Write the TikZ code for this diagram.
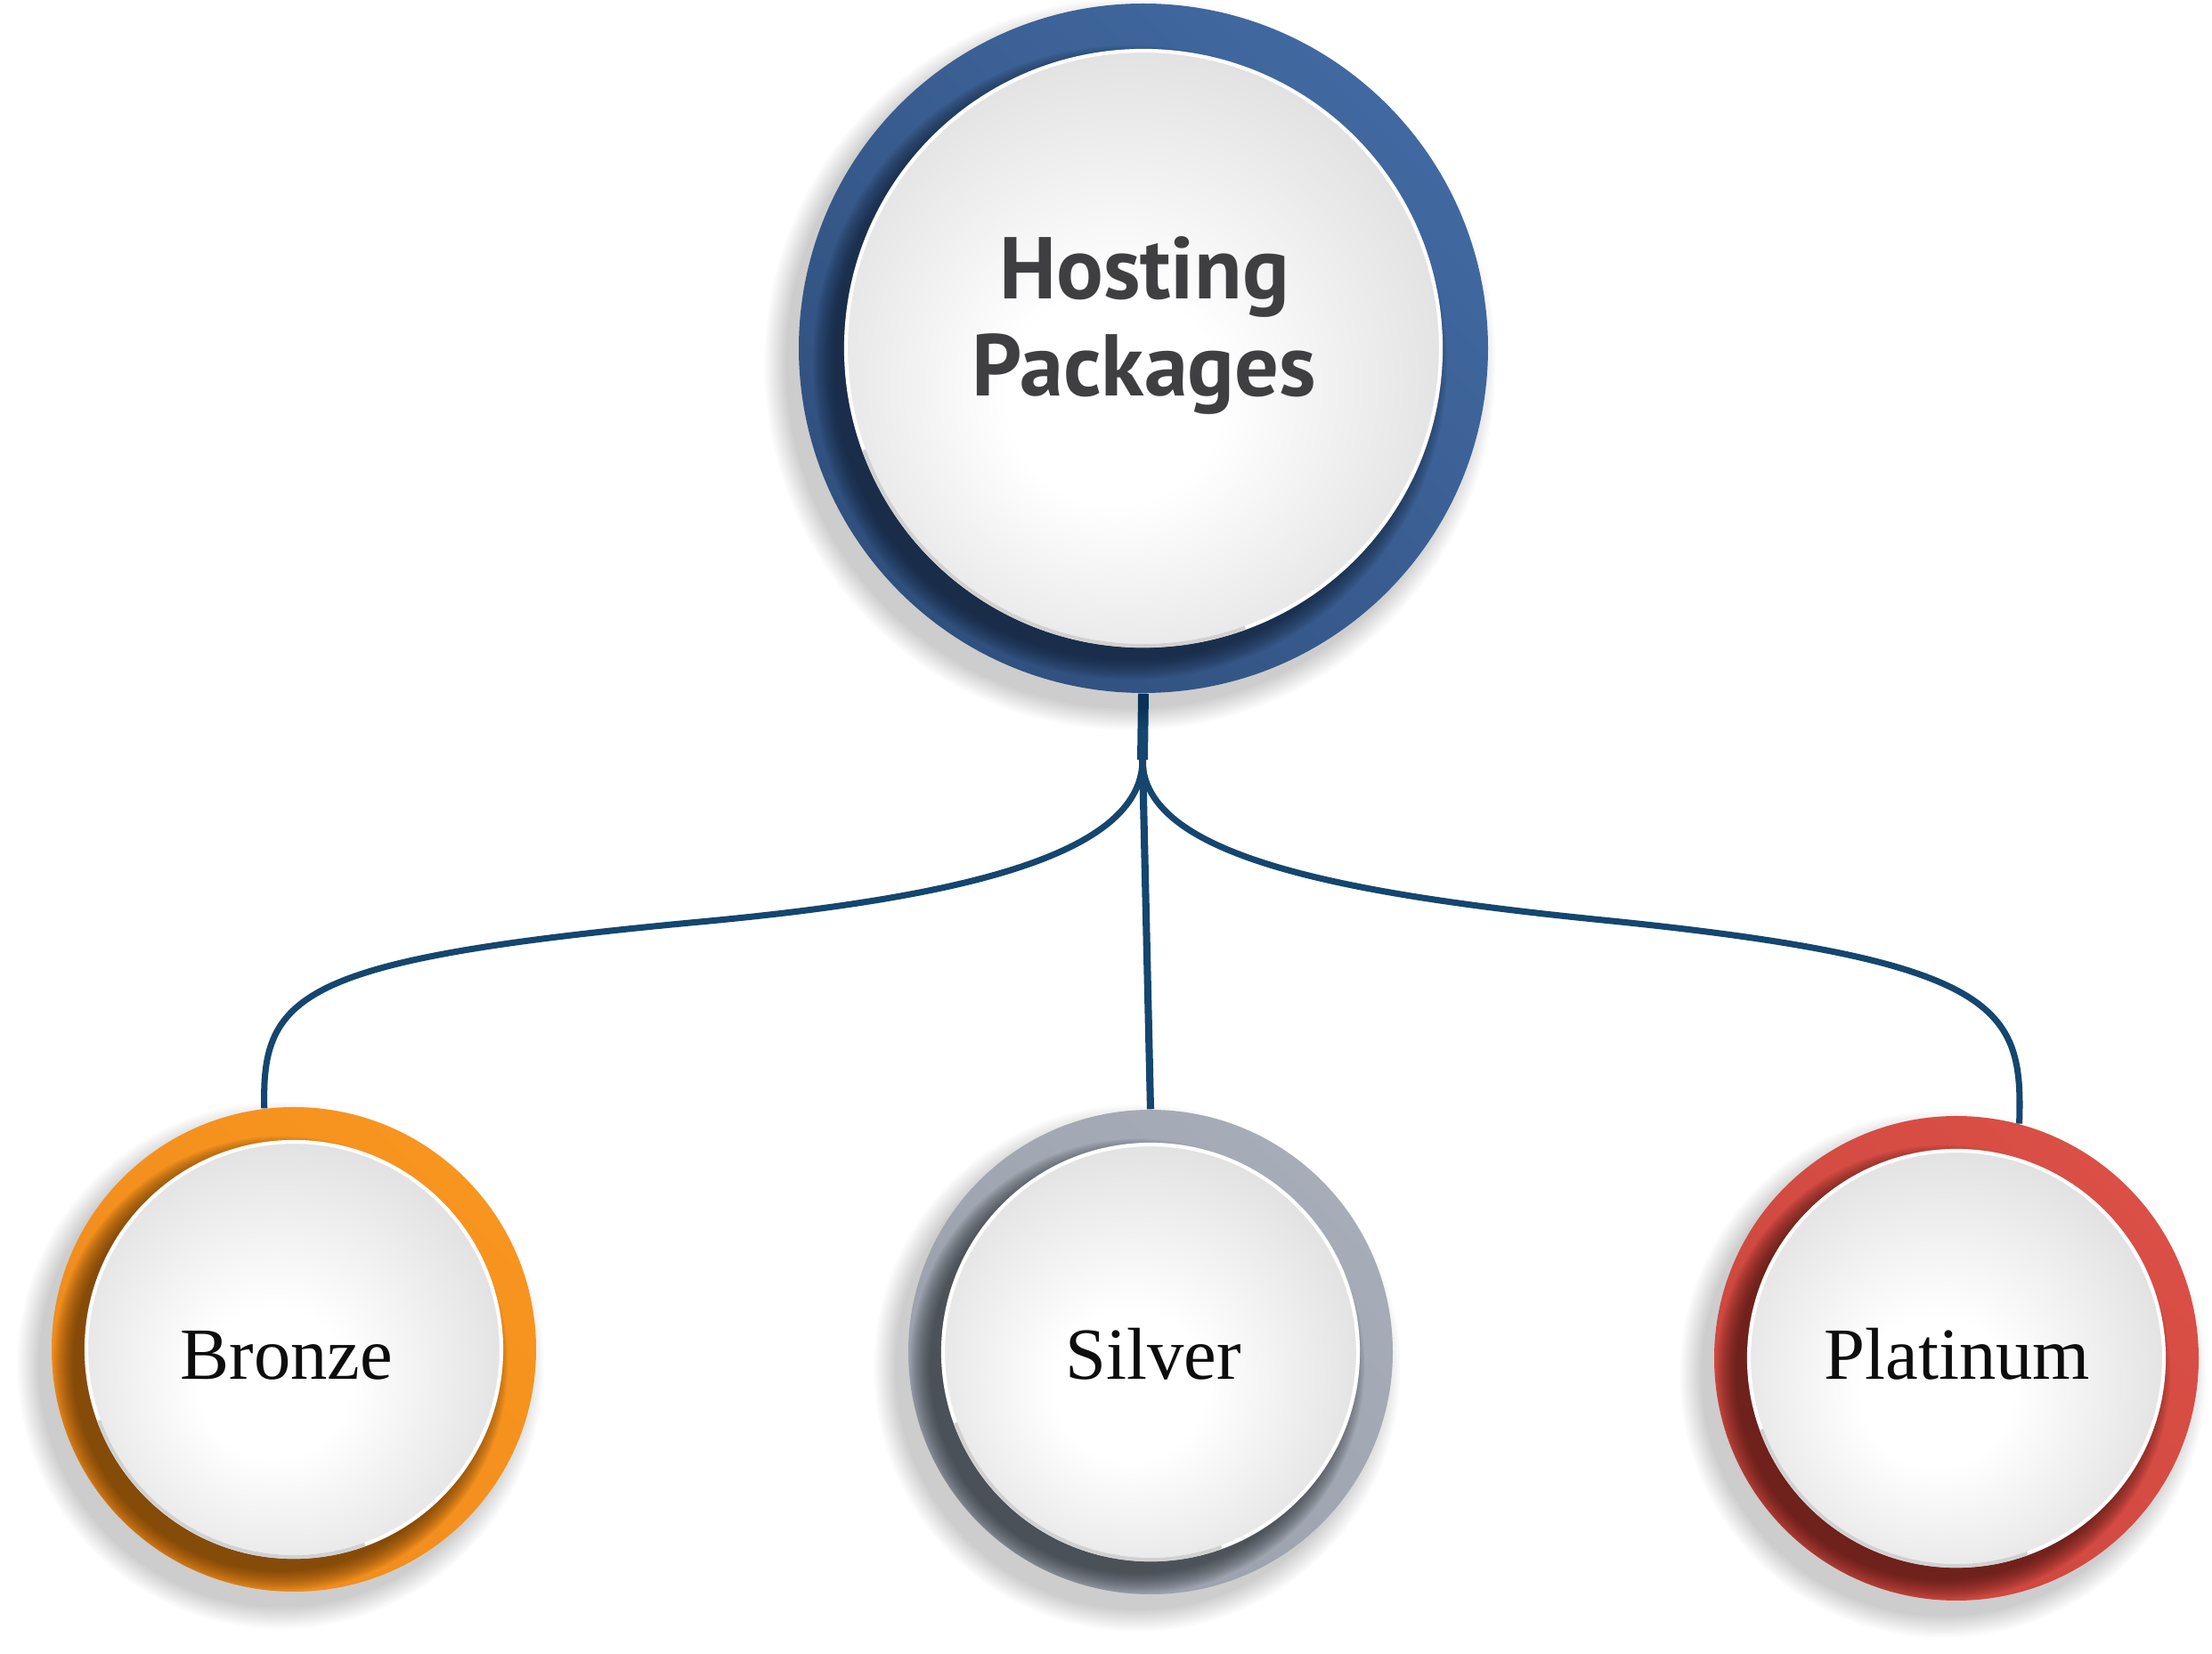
\documentclass[tikz,border=0pt]{standalone}
\usepackage{fontspec}
\setmainfont{Liberation Serif}
\newfontfamily\headfont{PT Sans}
\usetikzlibrary{calc}

\definecolor{conn}{HTML}{14466F}
\definecolor{discgray}{HTML}{DEDEDE}
\definecolor{blueL}{HTML}{4169A1}
\definecolor{blueD}{HTML}{30507E}
\definecolor{blueS}{HTML}{101B2D}
\definecolor{orangeL}{HTML}{F8951F}
\definecolor{orangeD}{HTML}{EF8B1D}
\definecolor{orangeS}{HTML}{472600}
\definecolor{silverL}{HTML}{A6ADB8}
\definecolor{silverD}{HTML}{99A0AB}
\definecolor{silverS}{HTML}{1F2328}
\definecolor{redL}{HTML}{DA4F46}
\definecolor{redD}{HTML}{CC473F}
\definecolor{redS}{HTML}{380E0B}
\definecolor{hubtxt}{HTML}{3F3F41}

\pgfdeclareradialshading{discshade}{\pgfpoint{-3bp}{-5bp}}{%
  color(0bp)=(white); color(9bp)=(white); color(30bp)=(discgray); color(50bp)=(discgray)}

\newcommand\fancydisc[6]{%
  \foreach \k in {0,...,9}{\fill[black,opacity=0.02] ($(#1)+(-0.15,-0.18)$) circle ({#2+0.026*\k});}
  \shade[top color=#4, bottom color=#5, shading angle=-45] (#1) circle (#2);
  \begin{scope}
    \clip (#1) circle (#2);
    \foreach \k in {0,...,11}{\fill[#6,opacity=0.075] ($(#1)+(-0.15,-0.16)$) circle ({#3+0.02*\k});}
  \end{scope}
  \shade[shading=discshade] (#1) circle (#3);
  \draw[white,line width=1.2pt] (#1) circle (#3);
  \draw[black!18,line width=1.2pt] ($(#1)+(200:#3)$) arc (200:290:#3);
}

\tikzset{
  anchorcircle/.style={circle, inner sep=0pt, minimum size=#1},
  hubtext/.style={font=\headfont\bfseries\fontsize{28}{32}\selectfont, text=hubtxt, inner sep=0pt},
  leaftext/.style={font=\fontsize{23.5}{28}\selectfont, text=black!95, inner sep=0pt},
  link/.style={draw=conn, line width=2pt},
}

\begin{document}
\begin{tikzpicture}
\useasboundingbox (0,0) rectangle (24.84,-18.57);
\fill[white] (0,0) rectangle (24.84,-18.57);

% anchor nodes
\node[anchorcircle=7.74cm] (hub) at (12.84,-3.91) {};
\node[anchorcircle=5.44cm] (b) at (3.30,-15.15) {};
\node[anchorcircle=5.44cm] (s) at (12.92,-15.18) {};
\node[anchorcircle=5.44cm] (p) at (21.97,-15.25) {};
\coordinate (br) at (12.83,-8.53);

% connectors
\draw[link, line width=3.4pt] (hub.south) -- (br);
\draw[link, line width=2.3pt] (br) -- (s.north);
\draw[link] (br) .. controls (12.83,-9.63) and (10.66,-10.09) .. (7.86,-10.35)
                 .. controls (3.36,-10.77) and (2.935,-11.15) .. (b.97.7);
\draw[link] (br) .. controls (12.83,-9.60) and (15.00,-10.03) .. (18.00,-10.33)
                 .. controls (22.50,-10.78) and (22.72,-11.32) .. (p.75.3);

% discs
\fancydisc{hub}{3.87}{3.34}{blueL}{blueD}{blueS}
\fancydisc{b}{2.72}{2.33}{orangeL}{orangeD}{orangeS}
\fancydisc{s}{2.72}{2.33}{silverL}{silverD}{silverS}
\fancydisc{p}{2.72}{2.33}{redL}{redD}{redS}

% labels
\node[hubtext, anchor=base] (t1) at (12.85,-3.36) {Hosting};
\node[hubtext, anchor=base] (t2) at (12.85,-4.45) {Packages};
\node[leaftext, anchor=base] (bt) at (3.22,-15.49) {Bronze};
\node[leaftext, anchor=base] (st) at (12.95,-15.49) {Silver};
\node[leaftext, anchor=base] (pt) at (21.98,-15.49) {Platinum};
\end{tikzpicture}
\end{document}
